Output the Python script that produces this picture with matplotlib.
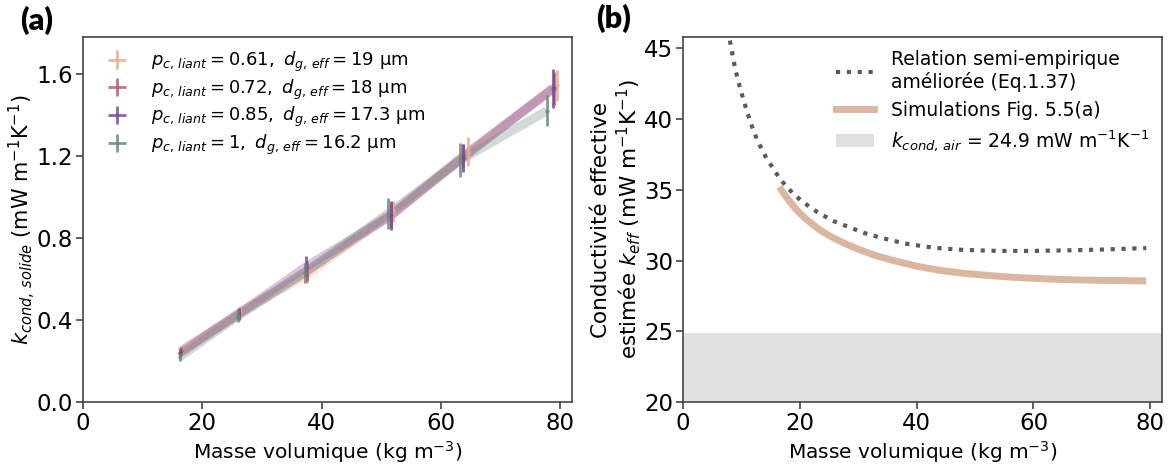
import matplotlib
matplotlib.use("Agg")
import matplotlib.pyplot as plt
from matplotlib.patches import Patch
from matplotlib.lines import Line2D

# ---------------- Panel (a) data ----------------
labels_a = [r"$p_{c,\,liant}=0.61,\ d_{g,\,eff}=19$ µm",
            r"$p_{c,\,liant}=0.72,\ d_{g,\,eff}=18$ µm",
            r"$p_{c,\,liant}=0.85,\ d_{g,\,eff}=17.3$ µm",
            r"$p_{c,\,liant}=1,\ d_{g,\,eff}=16.2$ µm"]
colors_a = ["#e3ae90", "#b85c76", "#76489a", "#6d877c"]

rho_061 = [16.5, 26.3, 37.6, 52.0, 64.6, 79.5]
k_061 = [0.24, 0.44, 0.62, 0.93, 1.22, 1.545]
err_061 = [0.02, 0.03, 0.04, 0.05, 0.07, 0.075]

rho_072 = [16.4, 26.2, 37.5, 51.7, 63.8, 79.0]
k_072 = [0.25, 0.43, 0.64, 0.91, 1.20, 1.53]
err_072 = [0.02, 0.03, 0.05, 0.06, 0.06, 0.08]

rho_085 = [16.3, 26.1, 37.4, 51.6, 63.7, 78.8]
k_085 = [0.24, 0.43, 0.66, 0.91, 1.19, 1.53]
err_085 = [0.02, 0.03, 0.05, 0.07, 0.07, 0.095]

rho_100 = [16.2, 26.0, 37.2, 51.2, 63.3, 77.8]
k_100 = [0.22, 0.42, 0.63, 0.92, 1.18, 1.42]
err_100 = [0.02, 0.03, 0.05, 0.075, 0.085, 0.075]

series_a = [(rho_061, k_061, err_061), (rho_072, k_072, err_072),
            (rho_085, k_085, err_085), (rho_100, k_100, err_100)]
xerr_a = 0.3

# ---------------- Panel (b) data ----------------
rho_emp = [7.7, 8.0, 8.9, 9.7, 10.6, 11.6, 12.7, 14.2, 15.9, 17.7, 20.3, 22.9, 25.7,
           28.5, 31.0, 34.0, 38.0, 43.0, 48.0, 54.0, 60.0, 66.0, 72.0, 79.3]
k_emp = [46.3, 45.6, 43.6, 42.3, 41.0, 39.7, 38.5, 37.3, 36.2, 35.2, 34.2, 33.45, 32.8,
         32.35, 31.95, 31.6, 31.2, 30.9, 30.75, 30.68, 30.68, 30.72, 30.78, 30.88]

rho_sim = [16.5, 17.5, 18.5, 19.5, 21.0, 22.5, 24.0, 26.0, 28.0, 30.0, 33.0, 36.0,
           40.0, 44.0, 48.0, 52.0, 56.0, 60.0, 65.0, 70.0, 75.0, 79.3]
k_sim = [35.2, 34.6, 34.05, 33.55, 32.95, 32.45, 32.0, 31.55, 31.15, 30.8, 30.35, 30.0,
         29.6, 29.3, 29.1, 28.95, 28.83, 28.74, 28.66, 28.61, 28.58, 28.56]

k_air = 24.9

label_emp = "Relation semi-empirique\naméliorée (Eq.1.37)"
label_sim = "Simulations Fig. 5.5(a)"
label_air = r"$k_{cond,\,air}$ = 24.9 mW m$^{-1}$K$^{-1}$"

xlabel = r"Masse volumique (kg m$^{-3}$)"

plt.rcParams["font.family"] = ["DejaVu Sans"]
plt.rcParams["font.size"] = 14

fig = plt.figure(figsize=(11.73, 4.66), dpi=100)
axa = fig.add_axes([0.0708, 0.1373, 0.4168, 0.7833])
axb = fig.add_axes([0.5823, 0.1373, 0.4083, 0.7833])

for ax in (axa, axb):
    for s in ax.spines.values():
        s.set_color("#444444")
        s.set_linewidth(1.2)
    ax.tick_params(labelsize=16.5, length=5, width=1.1, color="#333333", pad=2)

# Panel (a)
handles = []
for (x, y, e), c, lab in zip(series_a, colors_a, labels_a):
    axa.plot(x, y, color=c, lw=6.5, alpha=0.3, solid_capstyle="butt", zorder=2)
    h = axa.errorbar(x, y, yerr=e, xerr=xerr_a, fmt="none", ecolor=c,
                     elinewidth=2.0, capsize=0, alpha=0.85, label=lab, zorder=3)
    handles.append(h)
axa.set_xlim(0, 82)
axa.set_ylim(0, 1.78)
axa.set_xticks([0, 20, 40, 60, 80])
axa.set_yticks([0.0, 0.4, 0.8, 1.2, 1.6])
axa.set_xlabel(xlabel, fontsize=14.5, labelpad=3)
axa.set_ylabel(r"$k_{cond,\,solide}$ (mW m$^{-1}$K$^{-1}$)", fontsize=15, labelpad=-1)
axa.legend(handles=handles, labels=labels_a, loc="upper left", frameon=False,
           fontsize=13, handlelength=1.3, handletextpad=1.2, labelspacing=0.2,
           borderaxespad=0.3, bbox_to_anchor=(0.02, 1.0))

# Panel (b)
axb.axhspan(20, k_air, color="#e0e0e0", lw=0, zorder=0)
axb.plot(rho_emp, k_emp, color="#5a5a5a", lw=3, linestyle=(0, (1, 1.6)), zorder=3)
axb.plot(rho_sim, k_sim, color="#dbb7a1", lw=5, solid_capstyle="butt", zorder=2)
axb.set_xlim(0, 82)
axb.set_ylim(20, 45.8)
axb.set_xticks([0, 20, 40, 60, 80])
axb.set_yticks([20, 25, 30, 35, 40, 45])
axb.set_xlabel(xlabel, fontsize=14.5, labelpad=3)
axb.set_ylabel("Conductivité effective\n" + r"estimée $k_{eff}$ (mW m$^{-1}$K$^{-1}$)",
               fontsize=15.5, linespacing=1.12, labelpad=1)
hb = [Line2D([], [], color="#5a5a5a", lw=3, linestyle=(0, (1, 1.6))),
      Line2D([], [], color="#dbb7a1", lw=5),
      Patch(facecolor="#e0e0e0", edgecolor="none")]
axb.legend(hb, [label_emp, label_sim, label_air], loc="upper right", frameon=False,
           fontsize=13.5, handlelength=2.0, handletextpad=0.9, labelspacing=0.45,
           borderaxespad=0.3)

fig.text(0.017, 0.957, "(a)", fontsize=22, fontweight="heavy", family="Lato", va="center")
fig.text(0.508, 0.960, "(b)", fontsize=22, fontweight="heavy", family="Lato", va="center")

fig.savefig("out.png", dpi=100)
